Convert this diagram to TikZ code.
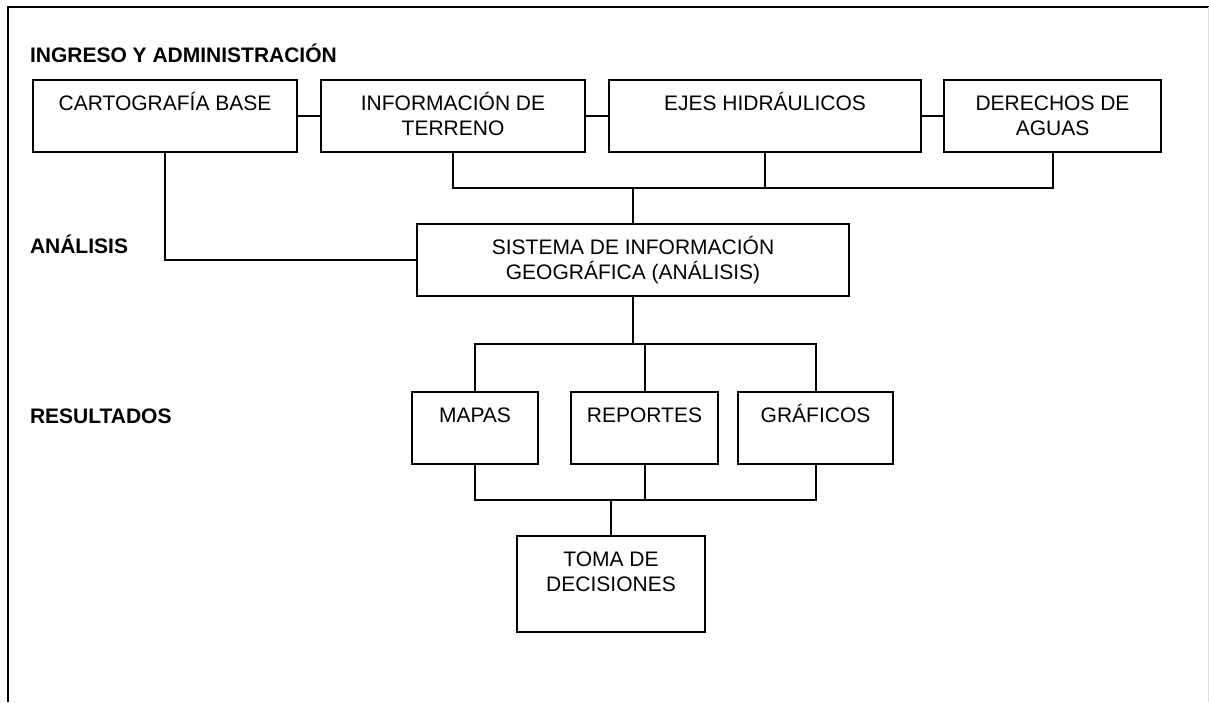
\documentclass[tikz,border=0pt]{standalone}
\usepackage{fontspec}
\setmainfont{Liberation Sans}
\usetikzlibrary{positioning}

\begin{document}
\begin{tikzpicture}[
		x=0.5pt, y=-0.5pt, on grid,
		line width=1pt,
		font=\fontsize{10.5}{12.5}\selectfont,
		box/.style={draw, align=center, inner ysep=0pt, inner xsep=2pt},
		row1/.style={box, text height=15pt, text depth=21pt},
		row2/.style={box, text height=27.5pt, text depth=8.5pt},
		level/.style={anchor=base west, inner sep=0pt, font=\fontsize{10.5}{12.5}\selectfont\bfseries}
		]
		\useasboundingbox (0,0) rectangle (1209,702);
		% marco
		\draw (7.5,702) -- (7.5,6.5) -- (1209,6.5);
		\draw[black!12, line width=0.5pt] (1208.5,6.5) -- (1208.5,702);
		% niveles
		\node[level] (ingreso) at (29,62) {INGRESO Y ADMINISTRACIÓN};
		\node[level] (analisis) at (29,253) {ANÁLISIS};
		\node[level] (resultados) at (29,423) {RESULTADOS};
		% ingreso
		\node[row1, minimum width=132pt] (carto) at (165,116) {CARTOGRAFÍA BASE};
		\node[row2, minimum width=132pt] (terreno) [right=144pt of carto] {INFORMACIÓN DE\\TERRENO};
		\node[row1, minimum width=156pt] (ejes) [right=156pt of terreno] {EJES HIDRÁULICOS};
		\node[row2, minimum width=108.5pt] (aguas) [right=143.75pt of ejes] {DERECHOS DE\\AGUAS};
		% analisis
		\node[row2, minimum width=216pt] (sig) at (633,260) {SISTEMA DE INFORMACIÓN\\GEOGRÁFICA (ANÁLISIS)};
		% resultados
		\node[row1, minimum width=63pt] (mapas) [below left=84pt and 79pt of sig] {MAPAS};
		\node[row1, minimum width=73.5pt] (reportes) [right=84.75pt of mapas] {REPORTES};
		\node[row1, minimum width=77.5pt] (graficos) [right=85.5pt of reportes] {GRÁFICOS};
		\node[row2, minimum width=94pt, text depth=20.5pt] (toma) [below left=78pt and 16.75pt of reportes] {TOMA DE\\DECISIONES};
		% conexiones
		\coordinate (inbus) at (633,188);
		\coordinate (outbus) at (633,344);
		\coordinate (endbus) at (611,500);
		\draw (carto.east) -- (terreno.west);
		\draw (terreno.east) -- (ejes.west);
		\draw (ejes.east) -- (aguas.west);
		\draw (carto.south) |- (sig.west);
		\draw (terreno.south) |- (inbus) -| (aguas.south);
		\draw (ejes.south) -- (ejes.south |- inbus);
		\draw (inbus) -- (sig.north);
		\draw (sig.south) -- (outbus);
		\draw (mapas.north) |- (outbus) -| (graficos.north);
		\draw (reportes.north) -- (reportes.north |- outbus);
		\draw (mapas.south) |- (endbus) -| (graficos.south);
		\draw (reportes.south) -- (reportes.south |- endbus);
		\draw (endbus) -- (toma.north);
\end{tikzpicture}
\end{document}
